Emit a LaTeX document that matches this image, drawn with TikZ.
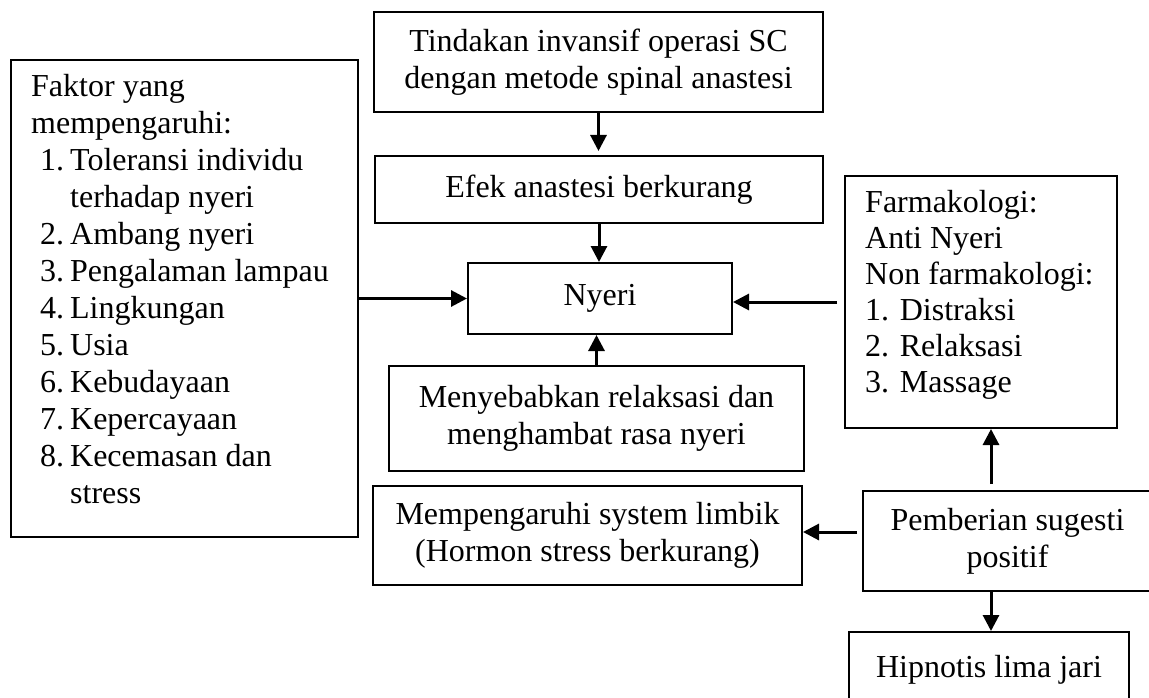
\documentclass[tikz,border=0pt]{standalone}
\usepackage{fontspec}
\setmainfont{Liberation Serif}
\usetikzlibrary{arrows.meta}
\begin{document}
\begin{tikzpicture}[x=1pt,y=-1pt,
  box/.style={draw,line width=2pt,inner sep=0pt,align=center,font=\fontsize{32}{37}\selectfont},
  arr/.style={line width=3pt,-{Triangle[length=16pt,width=16pt]}},
  txt/.style={inner sep=0pt,align=left,anchor=north west,font=\fontsize{32}{37}\selectfont}]
\useasboundingbox (0,0) rectangle (1149,698);
% boxes
\node[box,minimum width=449pt,minimum height=100pt] (top) at (598.5,62) {Tindakan invansif operasi SC\\dengan metode spinal anastesi};
\node[box,minimum width=448pt,minimum height=67pt] (efek) at (599,189.5) {Efek anastesi berkurang};
\node[box,minimum width=264pt,minimum height=71pt] (nyeri) at (600,298.5) {Nyeri};
\node[box,minimum width=415pt,minimum height=105pt] (menye) at (596.5,418.5) {Menyebabkan relaksasi dan\\menghambat rasa nyeri};
\node[box,minimum width=347pt,minimum height=477pt] (left) at (184.5,298.5) {};
\node[box,minimum width=272pt,minimum height=252pt] (farm) at (981,302) {};
\node[box,minimum width=429pt,minimum height=99pt] (memp) at (587.5,535.5) {Mempengaruhi system limbik\\(Hormon stress berkurang)};
\node[box,minimum width=289pt,minimum height=100pt] (pemb) at (1007.5,541) {Pemberian sugesti\\positif};
\node[box,minimum width=280pt,minimum height=76pt] (hip) at (989,670) {\raisebox{3pt}{Hipnotis lima jari}};
% texts in list boxes
\node[txt] (lefttext) at (31,74) {Faktor yang\\
mempengaruhi:\\
\hspace*{9pt}\makebox[30pt][l]{1.}Toleransi individu\\
\hspace*{39pt}terhadap nyeri\\
\hspace*{9pt}\makebox[30pt][l]{2.}Ambang nyeri\\
\hspace*{9pt}\makebox[30pt][l]{3.}Pengalaman lampau\\
\hspace*{9pt}\makebox[30pt][l]{4.}Lingkungan\\
\hspace*{9pt}\makebox[30pt][l]{5.}Usia\\
\hspace*{9pt}\makebox[30pt][l]{6.}Kebudayaan\\
\hspace*{9pt}\makebox[30pt][l]{7.}Kepercayaan\\
\hspace*{9pt}\makebox[30pt][l]{8.}Kecemasan dan\\
\hspace*{39pt}stress};
\node[txt,font=\fontsize{32}{36}\selectfont] (farmtext) at (865,190) {Farmakologi:\\
Anti Nyeri\\
Non farmakologi:\\
1. Distraksi\\
2. Relaksasi\\
3. Massage};
% connectors
\draw[arr,shorten >=4pt] (top.south) -- (top.south |- efek.north);
\draw[arr] (efek.south) -- (efek.south |- nyeri.north);
\draw[arr] (menye.north) -- (menye.north |- nyeri.south);
\draw[arr] (left.east) -- (left.east -| nyeri.west);
\draw[arr,shorten <=7pt] (farm.west) -- (farm.west -| nyeri.east);
\draw[arr,shorten <=6pt] ([xshift=-16.5pt]pemb.north) -- ([xshift=-16.5pt]pemb.north |- farm.south);
\draw[arr,shorten <=5pt] ([yshift=9pt]pemb.west) -- ([yshift=9pt]pemb.west -| memp.east);
\draw[arr] ([xshift=-16.5pt]pemb.south) -- ([xshift=-16.5pt]pemb.south |- hip.north);
\end{tikzpicture}
\end{document}
